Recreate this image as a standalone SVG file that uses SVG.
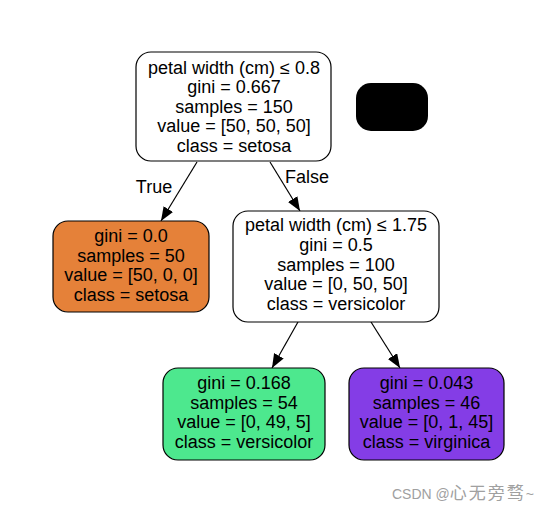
<svg xmlns="http://www.w3.org/2000/svg" width="556" height="513" viewBox="0 0 556 513">
<defs>
<style>
.box{stroke:#000;stroke-width:1.2}
.t{font-family:"Liberation Sans",Arial,sans-serif;font-size:18px;text-anchor:middle;fill:#000}
.lbl{font-family:"Liberation Sans",Arial,sans-serif;font-size:18px;text-anchor:middle;fill:#000}
.e{stroke:#000;stroke-width:1.2;fill:none}
.wm{font-family:"Liberation Sans","Noto Sans CJK SC",sans-serif;font-size:14px;fill:#a0a0a0}
.cjk{font-family:"Noto Sans CJK SC",sans-serif;font-size:17px;letter-spacing:2px}
</style>
<marker id="ah" markerUnits="userSpaceOnUse" markerWidth="16" markerHeight="12" refX="14" refY="5.5" orient="auto">
<path d="M0,0 L14,5.5 L0,11 Z" fill="#000"/>
</marker>
</defs>
<rect width="556" height="513" fill="#fff"/>
<g id="connectors">
<line class="e" x1="197" y1="162" x2="161" y2="221" marker-end="url(#ah)"/>
<line class="e" x1="270" y1="162" x2="300" y2="211" marker-end="url(#ah)"/>
<line class="e" x1="298" y1="322" x2="272" y2="368" marker-end="url(#ah)"/>
<line class="e" x1="371" y1="322" x2="400" y2="368" marker-end="url(#ah)"/>
<text class="lbl" x="154" y="193">True</text>
<text class="lbl" x="307" y="183">False</text>
</g>
<g id="n0">
<rect class="box" x="136" y="52" width="195" height="109" rx="15" fill="#fff"/>
<text class="t" x="234" y="74">petal width (cm) ≤ 0.8</text>
<text class="t" x="234" y="93">gini = 0.667</text>
<text class="t" x="234" y="112.5">samples = 150</text>
<text class="t" x="234" y="132">value = [50, 50, 50]</text>
<text class="t" x="234" y="152">class = setosa</text>
</g>
<g id="legend">
<rect x="356" y="83" width="72" height="48" rx="15" fill="#000"/>
</g>
<g id="n1">
<rect class="box" x="53" y="221" width="156" height="91" rx="15" fill="#e58139"/>
<text class="t" x="131" y="242">gini = 0.0</text>
<text class="t" x="131" y="261.5">samples = 50</text>
<text class="t" x="131" y="281">value = [50, 0, 0]</text>
<text class="t" x="131" y="301">class = setosa</text>
</g>
<g id="n2">
<rect class="box" x="233" y="211" width="206" height="111" rx="15" fill="#fff"/>
<text class="t" x="336" y="231">petal width (cm) ≤ 1.75</text>
<text class="t" x="336" y="251">gini = 0.5</text>
<text class="t" x="336" y="270.5">samples = 100</text>
<text class="t" x="336" y="290">value = [0, 50, 50]</text>
<text class="t" x="336" y="310">class = versicolor</text>
</g>
<g id="n3">
<rect class="box" x="163" y="368" width="162" height="92" rx="15" fill="#4de88e"/>
<text class="t" x="244" y="389">gini = 0.168</text>
<text class="t" x="244" y="408.5">samples = 54</text>
<text class="t" x="244" y="428">value = [0, 49, 5]</text>
<text class="t" x="244" y="448">class = versicolor</text>
</g>
<g id="n4">
<rect class="box" x="349" y="368" width="155" height="92" rx="15" fill="#843de6"/>
<text class="t" x="426.5" y="389">gini = 0.043</text>
<text class="t" x="426.5" y="408.5">samples = 46</text>
<text class="t" x="426.5" y="428">value = [0, 1, 45]</text>
<text class="t" x="426.5" y="448">class = virginica</text>
</g>
<text class="wm" x="392" y="499">CSDN @<tspan class="cjk">心无旁骛</tspan>~</text>
</svg>
